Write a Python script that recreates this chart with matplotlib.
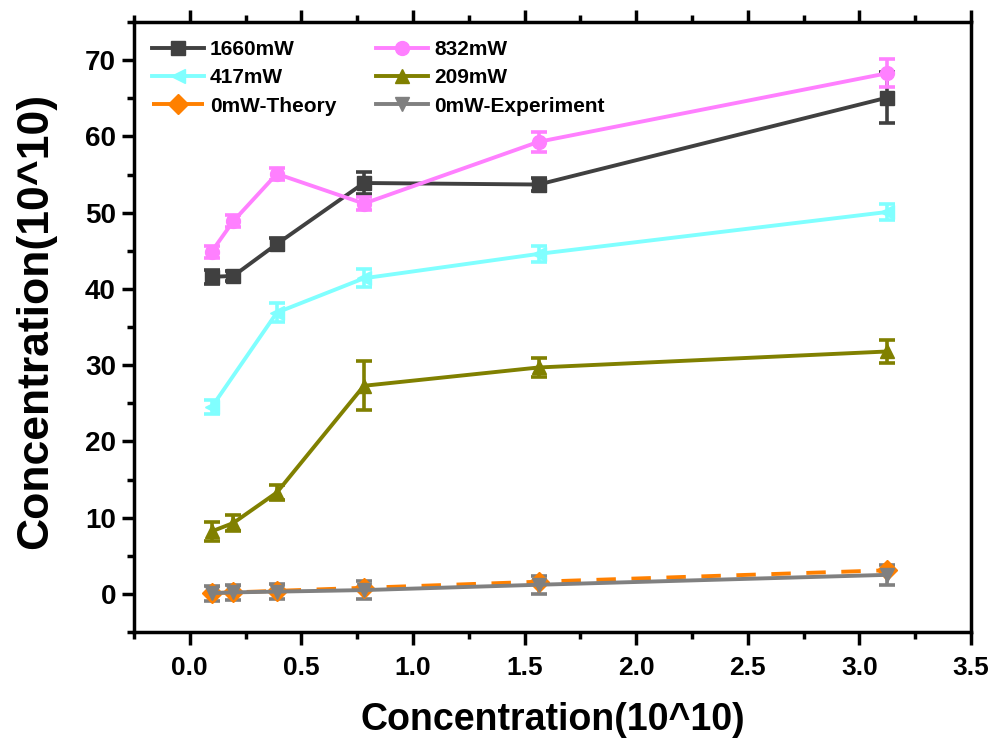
import matplotlib
matplotlib.use('Agg')
import matplotlib.pyplot as plt
from matplotlib.ticker import MultipleLocator

plt.rcParams['font.family'] = ['Liberation Sans', 'DejaVu Sans']
plt.rcParams['font.weight'] = 'bold'

conc = [0.098, 0.195, 0.39, 0.78, 1.5625, 3.125]
conc_417 = [0.098, 0.39, 0.78, 1.5625, 3.125]

p1660 = [41.6, 41.7, 45.9, 53.9, 53.7, 65.1]
p1660_err = [0.9, 0.7, 0.8, 1.5, 0.8, 3.3]
p832 = [44.9, 48.9, 55.1, 51.2, 59.3, 68.3]
p832_err = [0.8, 0.8, 0.8, 0.8, 1.3, 1.8]
p417 = [24.5, 36.9, 41.4, 44.6, 50.1]
p417_err = [0.9, 1.2, 1.2, 1.0, 1.0]
p209 = [8.2, 9.3, 13.3, 27.3, 29.7, 31.8]
p209_err = [1.2, 1.0, 1.0, 3.2, 1.2, 1.5]
theory = [0.1, 0.2, 0.4, 0.8, 1.6, 3.1]
experiment = [0.1, 0.2, 0.3, 0.5, 1.2, 2.5]
experiment_err = [1.0, 1.0, 1.0, 1.2, 1.2, 1.3]

series = [
    ('1660mW', conc, p1660, p1660_err, '#404040', 's', '-'),
    ('832mW', conc, p832, p832_err, '#ff80ff', 'o', '-'),
    ('417mW', conc_417, p417, p417_err, '#80ffff', '<', '-'),
    ('209mW', conc, p209, p209_err, '#808000', '^', '-'),
    ('0mW-Theory', conc, theory, None, '#ff8000', 'D', (0, (5, 4))),
    ('0mW-Experiment', conc, experiment, experiment_err, '#808080', 'v', '-'),
]

fig = plt.figure(figsize=(10, 7.38), dpi=100)
ax = fig.add_axes([0.134, 0.1436, 0.837, 0.8264])

lines = {}
for label, x, y, err, color, marker, ls in series:
    cont = ax.errorbar(x, y, yerr=err, color=color, marker=marker, markersize=10,
                       linestyle=ls, linewidth=2.8, elinewidth=2.6,
                       capsize=5.5, capthick=2.6)
    lines[label] = cont[0]

ax.set_xlim(-0.25, 3.5)
ax.set_ylim(-5, 75)
ax.xaxis.set_major_locator(MultipleLocator(0.5))
ax.xaxis.set_minor_locator(MultipleLocator(0.25))
ax.yaxis.set_major_locator(MultipleLocator(10))
ax.yaxis.set_minor_locator(MultipleLocator(5))

for side in ['left', 'right', 'top', 'bottom']:
    ax.spines[side].set_linewidth(2.5)

ax.tick_params(which='both', direction='out', width=2.5, top=True, right=False)
ax.tick_params(which='major', length=9)
ax.tick_params(which='minor', length=5)
ax.tick_params(axis='x', labelsize=19, pad=8)
ax.tick_params(axis='y', labelsize=20, pad=4)

ax.set_xlabel('Concentration(10^10)', fontsize=27, fontweight='bold', labelpad=16)
ax.set_ylabel('Concentration(10^10)', fontsize=32, fontweight='bold')
ax.yaxis.set_label_coords(-0.093, 0.51)

# two columns, filled top to bottom
order = ['1660mW', '417mW', '0mW-Theory', '832mW', '209mW', '0mW-Experiment']
ax.legend([lines[k] for k in order], order, loc='upper left', ncol=2,
          frameon=False, prop={'weight': 'bold', 'size': 15}, numpoints=1,
          handlelength=2.5, handletextpad=0.3, columnspacing=1.9,
          labelspacing=0.45, bbox_to_anchor=(0.0, 1.0), borderaxespad=0.45)

fig.savefig('out.png', dpi=100)
